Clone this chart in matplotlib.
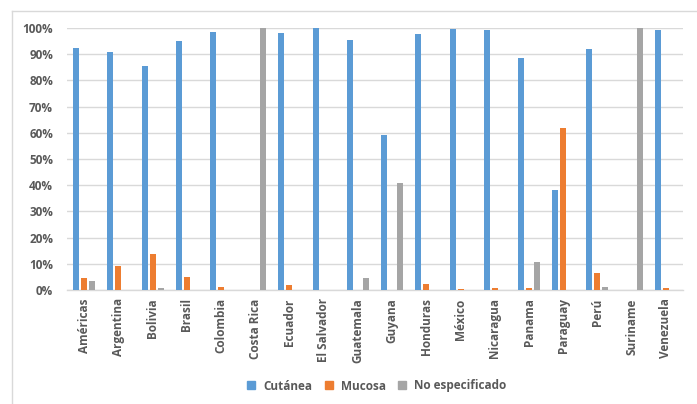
#!/usr/bin/env python3
"""Bar chart: forma clínica (cutánea / mucosa / no especificado) por país."""

import matplotlib

matplotlib.use("Agg")
import matplotlib.pyplot as plt
from matplotlib.lines import Line2D
from matplotlib.ticker import FuncFormatter, MultipleLocator
import numpy as np

COUNTRIES = [
    "Américas", "Argentina", "Bolivia", "Brasil", "Colombia", "Costa Rica",
    "Ecuador", "El Salvador", "Guatemala", "Guyana", "Honduras", "México",
    "Nicaragua", "Panama", "Paraguay", "Perú", "Suriname", "Venezuela",
]
CUTANEA = [92.2, 91.0, 85.5, 94.9, 98.5, 0, 98.0, 100, 95.3, 59.0, 97.7,
           99.6, 99.1, 88.7, 38.1, 91.9, 0, 99.1]
MUCOSA = [4.4, 9.0, 13.9, 5.0, 1.2, 0, 1.8, 0, 0, 0, 2.1,
          0.3, 0.8, 0.8, 61.7, 6.6, 0, 0.8]
NO_ESPEC = [3.5, 0, 0.8, 0, 0, 100, 0, 0, 4.7, 40.8, 0,
            0, 0, 10.6, 0, 1.2, 100, 0]
SERIES = ["Cutánea", "Mucosa", "No especificado"]

COLORS = ["#5B9BD5", "#ED7D31", "#A5A5A5"]
TEXT = "#595959"
GRID = "#D9D9D9"


def main() -> None:
    plt.rcParams["font.family"] = ["Open Sans", "DejaVu Sans"]
    fig = plt.figure(figsize=(6.97, 4.04), dpi=100)
    ax = fig.add_axes([67 / 697, 1 - 290 / 404, (683 - 67) / 697, (290 - 28) / 404])

    x = np.arange(len(COUNTRIES))
    width = 0.175
    step = 0.235
    for i, (vals, color) in enumerate(zip([CUTANEA, MUCOSA, NO_ESPEC], COLORS)):
        ax.bar(x + (i - 1) * step, vals, width=width, color=color, zorder=3)

    ax.set_xlim(-0.5, len(COUNTRIES) - 0.5)
    ax.set_ylim(0, 100)
    ax.yaxis.set_major_locator(MultipleLocator(10))
    ax.yaxis.set_major_formatter(FuncFormatter(lambda v, _: f"{v:.0f}%"))
    ax.grid(axis="y", color=GRID, linewidth=1.0, zorder=0)
    for side in ["top", "right", "left"]:
        ax.spines[side].set_visible(False)
    ax.spines["bottom"].set_color(GRID)
    ax.spines["bottom"].set_linewidth(1.0)
    ax.tick_params(length=0, colors=TEXT, labelsize=8.5)
    ax.tick_params(axis="y", pad=10)
    ax.tick_params(axis="x", pad=6)
    ax.set_xticks(x)
    ax.set_xticklabels(COUNTRIES, rotation=90, fontweight="bold")
    for lbl in ax.get_yticklabels():
        lbl.set_fontweight("bold")

    handles = [Line2D([], [], marker="s", linestyle="none", markersize=6,
                      color=c) for c in COLORS]
    fig.legend(handles, SERIES, loc="center", bbox_to_anchor=(0.535, 1 - 386 / 404),
               ncol=3, frameon=False, handletextpad=0.0, columnspacing=0.4,
               prop={"weight": "bold", "size": 8.5}, labelcolor=TEXT)

    # outer chart frame (top and left edges visible)
    fig.add_artist(Line2D([12 / 697, 1], [1 - 11 / 404] * 2, color=GRID, lw=1.0))
    fig.add_artist(Line2D([12 / 697] * 2, [0, 1 - 11 / 404], color=GRID, lw=1.0))

    fig.savefig("out.png", dpi=100)
    plt.close(fig)


if __name__ == "__main__":
    main()
